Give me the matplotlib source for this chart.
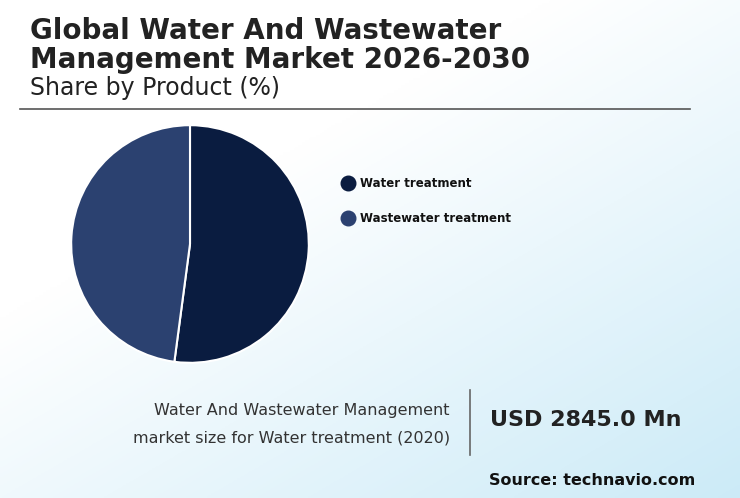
import numpy as np
import matplotlib.pyplot as plt

# Data
products = ['Water treatment', 'Wastewater treatment']
shares = [52.1, 47.9]
colors = ['#0a1c40', '#2b4170']

W, H = 740, 498
fig = plt.figure(figsize=(W / 100, H / 100), dpi=100)

# Background gradient (white top-left to light blue bottom-right)
bg = fig.add_axes([0, 0, 1, 1])
xx, yy = np.meshgrid(np.linspace(0, 1, 200), np.linspace(0, 1, 200))
t = np.clip((xx * 0.6 + (1 - yy) * 0.7) - 0.45, 0, 1) / 0.85
top = np.array([1.0, 1.0, 1.0])
bot = np.array([0.80, 0.92, 0.97])
img = top[None, None, :] * (1 - t[..., None]) + bot[None, None, :] * t[..., None]
bg.imshow(img, extent=[0, 1, 0, 1], aspect='auto', origin='lower')
bg.set_xlim(0, 1)
bg.set_ylim(0, 1)
bg.axis('off')

def fx(px):
    return px / W

def fy(py):
    return 1 - py / H

# Titles
fig.text(fx(30), fy(31), 'Global Water And Wastewater', fontsize=20, fontweight='bold',
         color='#222222', va='center')
fig.text(fx(30), fy(60), 'Management Market 2026-2030', fontsize=20, fontweight='bold',
         color='#222222', va='center')
fig.text(fx(30), fy(88), 'Share by Product (%)', fontsize=17, color='#222222', va='center')
bg.plot([fx(20), fx(690)], [fy(109), fy(109)], color='#555555', lw=1.2)

# Pie
r = 120
ax = fig.add_axes([fx(190 - r), fy(244 + r), 2 * r / W, 2 * r / H])
ax.pie(shares, colors=colors, startangle=90, counterclock=False,
       wedgeprops=dict(edgecolor='white', linewidth=1.5))
ax.set_xlim(-1.01, 1.01)
ax.set_ylim(-1.01, 1.01)
ax.set_aspect('equal')

# Legend
for i, (name, c) in enumerate(zip(products, colors)):
    y = 183 + i * 35
    bg.scatter([fx(348)], [fy(y)], s=110, color=c, zorder=3)
    fig.text(fx(360), fy(y), name, fontsize=8.5, fontweight='bold', color='#111111', va='center')

# Bottom info
fig.text(fx(450), fy(410), 'Water And Wastewater Management', fontsize=11.5,
         color='#333333', ha='right', va='center')
fig.text(fx(450), fy(438), 'market size for Water treatment (2020)', fontsize=11.5,
         color='#333333', ha='right', va='center')
bg.plot([fx(470), fx(470)], [fy(390), fy(455)], color='#666666', lw=1.2)
fig.text(fx(490), fy(420), 'USD 2845.0 Mn', fontsize=16, fontweight='bold',
         color='#222222', va='center')
fig.text(fx(695), fy(480), 'Source: technavio.com', fontsize=11.5, fontweight='bold',
         color='#111111', ha='right', va='center')

fig.savefig('out.png', dpi=100)
